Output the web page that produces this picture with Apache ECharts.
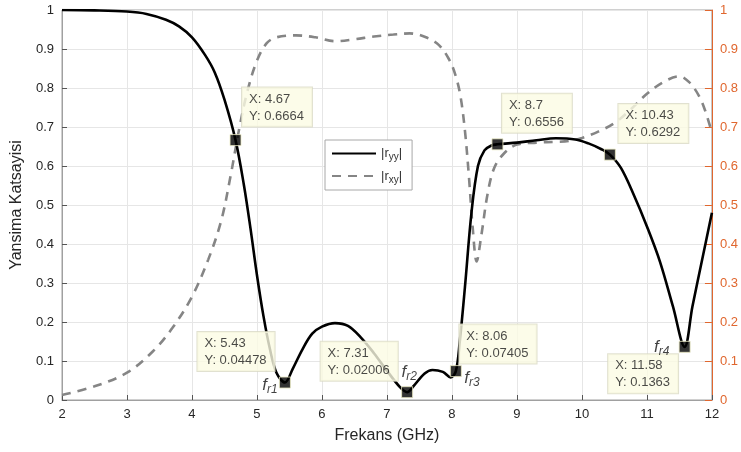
<!DOCTYPE html>
<html>
<head>
<meta charset="utf-8">
<script src="https://cdn.jsdelivr.net/npm/echarts@6/dist/echarts.min.js"></script>
<style>
  html, body { margin: 0; padding: 0; background: #fff; }
  #chart { width: 741px; height: 452px; }
</style>
</head>
<body>
<div id="chart"></div>
<script>
// Frequency axis (GHz)
const freqYY = [2, 2.5, 3, 3.3, 3.6, 3.8, 4.0, 4.2, 4.35, 4.5, 4.67, 4.8, 4.9, 5.0, 5.1, 5.2, 5.3, 5.43,
  5.55, 5.7, 5.85, 6.0, 6.2, 6.4, 6.6, 6.8, 7.0, 7.2, 7.31, 7.4, 7.58, 7.7, 7.86, 7.98, 8.06, 8.12, 8.2,
  8.3, 8.4, 8.5, 8.6, 8.7, 9.0, 9.3, 9.6, 9.9, 10.1, 10.3, 10.43, 10.6, 10.8, 11.0, 11.2, 11.4, 11.58,
  11.7, 11.85, 12];
// |r_yy| co-polar reflection magnitude
const ryy = [1.0, 0.999, 0.996, 0.99, 0.975, 0.958, 0.93, 0.885, 0.84, 0.77, 0.6664, 0.55, 0.44, 0.32,
  0.215, 0.13, 0.07, 0.04478, 0.08, 0.13, 0.17, 0.188, 0.197, 0.19, 0.16, 0.12, 0.075, 0.033, 0.02006,
  0.034, 0.068, 0.077, 0.072, 0.058, 0.07405, 0.15, 0.29, 0.48, 0.6, 0.64, 0.652, 0.6556, 0.66, 0.666,
  0.671, 0.668, 0.658, 0.643, 0.6292, 0.595, 0.525, 0.445, 0.355, 0.24, 0.1363, 0.24, 0.36, 0.48];

const freqXY = [2, 2.5, 3, 3.4, 3.7, 4.0, 4.25, 4.45, 4.6, 4.72, 4.85, 5.0, 5.15, 5.3, 5.6, 5.9, 6.2, 6.5,
  6.8, 7.1, 7.35, 7.6, 7.8, 7.95, 8.05, 8.13, 8.2, 8.26, 8.32, 8.38, 8.45, 8.55, 8.65, 8.8, 9.0, 9.3, 9.6,
  9.8, 10.0, 10.25, 10.5, 10.75, 11.0, 11.25, 11.5, 11.65, 11.8, 11.9, 12];
// |r_xy| cross-polar reflection magnitude
const rxy = [0.013, 0.035, 0.07, 0.125, 0.185, 0.265, 0.36, 0.46, 0.58, 0.69, 0.79, 0.87, 0.915, 0.93,
  0.935, 0.93, 0.92, 0.925, 0.932, 0.937, 0.94, 0.93, 0.91, 0.875, 0.835, 0.78, 0.69, 0.575, 0.44, 0.355,
  0.42, 0.53, 0.595, 0.632, 0.655, 0.66, 0.662, 0.664, 0.672, 0.688, 0.71, 0.745, 0.785, 0.815, 0.83,
  0.815, 0.78, 0.74, 0.685];

// Data tips on the |r_yy| curve
const tipX = [4.67, 5.43, 7.31, 8.06, 8.7, 10.43, 11.58];
const tipY = [0.6664, 0.04478, 0.02006, 0.07405, 0.6556, 0.6292, 0.1363];
// Resonance labels attached to tips
const resIndex = [1, 2, 3, 6];
const resNames = ['r1', 'r2', 'r3', 'r4'];

const xTicks = [2, 3, 4, 5, 6, 7, 8, 9, 10, 11, 12];
const yTicks = [0, 0.1, 0.2, 0.3, 0.4, 0.5, 0.6, 0.7, 0.8, 0.9, 1];

// Top-left corner of each tip box, relative to the marker centre
const tipBox = [[7, -52], [-87, -50], [-86, -50], [4, -46], [5, -50], [9, -50], [-76, 8]];
const resOffset = [[-15, 3], [2, -20], [16, 7], [-23, 0]];

const FONT = '"Liberation Sans", Arial, Helvetica, sans-serif';
const ORANGE = '#e0672f';
const MK = 11;

const pair = (xs, ys) => xs.map((x, i) => [x, ys[i]]);

const tipData = tipX.map((x, i) => ({
  value: [x, tipY[i]],
  label: {
    position: [MK / 2 + tipBox[i][0], MK / 2 + tipBox[i][1]],
    align: 'left',
    verticalAlign: 'top'
  }
}));

const resData = resIndex.map((k, j) => ({
  value: [tipX[k], tipY[k]],
  name: resNames[j],
  label: { offset: resOffset[j] }
}));

const chart = echarts.init(document.getElementById('chart'), null, { renderer: 'canvas' });

const tickFmt = v => {
  const r = Math.round(v * 10) / 10;
  return yTicks.includes(r) ? String(r) : '';
};

chart.setOption({
  animation: false,
  backgroundColor: '#ffffff',
  textStyle: { fontFamily: FONT },
  grid: {
    left: 62, right: 25, top: 10, bottom: 52,
    show: true, borderColor: '#a0a0a0', borderWidth: 1, backgroundColor: '#ffffff'
  },
  legend: {
    left: 325, top: 140,
    orient: 'vertical',
    backgroundColor: '#ffffff',
    borderColor: '#a8a8a8', borderWidth: 1,
    padding: [7, 10, 5, 6],
    itemGap: 7,
    itemWidth: 44, itemHeight: 14,
    itemStyle: { opacity: 0 },
    data: ['ryy', 'rxy'],
    formatter: n => n === 'ryy' ? '|r{s|yy}|' : '|r{s|xy}|',
    textStyle: {
      fontFamily: FONT, fontSize: 13, color: '#333',
      rich: { s: { fontFamily: FONT, fontSize: 10, color: '#333', padding: [8, 0, 0, 0] } }
    }
  },
  xAxis: {
    type: 'value', min: 2, max: 12, interval: 1,
    name: 'Frekans (GHz)', nameLocation: 'middle', nameGap: 28,
    nameTextStyle: { fontFamily: FONT, fontSize: 16, color: '#262626' },
    axisLine: { lineStyle: { color: '#a0a0a0' } },
    axisTick: { inside: true, length: 5, lineStyle: { color: '#555' } },
    axisLabel: { fontFamily: FONT, fontSize: 13, color: '#262626', margin: 8,
      formatter: v => xTicks.includes(v) ? String(v) : '' },
    splitLine: { show: true, lineStyle: { color: '#e6e6e6' } }
  },
  yAxis: [
    {
      type: 'value', min: 0, max: 1, interval: 0.1, position: 'left',
      name: 'Yansima Katsayisi', nameLocation: 'middle', nameGap: 33,
      nameTextStyle: { fontFamily: FONT, fontSize: 16, color: '#262626' },
      axisLine: { show: true, lineStyle: { color: '#a0a0a0' } },
      axisTick: { show: true, inside: true, length: 5, lineStyle: { color: '#555' } },
      axisLabel: { fontFamily: FONT, fontSize: 13, color: '#262626', margin: 8, formatter: tickFmt },
      splitLine: { show: true, lineStyle: { color: '#e6e6e6' } }
    },
    {
      type: 'value', min: 0, max: 1, interval: 0.1, position: 'right',
      axisLine: { show: true, lineStyle: { color: ORANGE } },
      axisTick: { show: true, inside: true, length: 7, lineStyle: { color: ORANGE } },
      axisLabel: { fontFamily: FONT, fontSize: 13, color: ORANGE, margin: 8, formatter: tickFmt },
      splitLine: { show: false }
    }
  ],
  series: [
    {
      name: 'rxy', type: 'line', yAxisIndex: 1,
      data: pair(freqXY, rxy),
      smooth: 0.35, symbol: 'none', z: 2,
      lineStyle: { color: '#858585', width: 2.6, type: [9, 7] },
      itemStyle: { color: '#858585' }
    },
    {
      name: 'ryy', type: 'line', yAxisIndex: 0,
      data: pair(freqYY, ryy),
      smooth: 0.35, symbol: 'none', z: 3,
      lineStyle: { color: '#000000', width: 2.6 },
      itemStyle: { color: '#000000' }
    },
    {
      name: 'tips', type: 'scatter', yAxisIndex: 0, z: 10,
      symbol: 'rect', symbolSize: MK,
      itemStyle: { color: '#000000', borderColor: '#ecebc6', borderWidth: 1 },
      data: tipData,
      label: {
        show: true,
        formatter: p => 'X: ' + p.value[0] + '\nY: ' + p.value[1],
        fontFamily: FONT, fontSize: 13, lineHeight: 17, color: '#1a1a1a',
        backgroundColor: '#fbfbe3', borderColor: '#d9d9c4', borderWidth: 1,
        padding: [3, 8, 2, 7]
      },
      emphasis: { disabled: true }
    },
    {
      name: 'res', type: 'scatter', yAxisIndex: 0, z: 11,
      symbol: 'circle', symbolSize: 1,
      itemStyle: { color: 'rgba(0,0,0,0)' },
      data: resData,
      label: {
        show: true, position: 'inside', align: 'center', verticalAlign: 'middle',
        formatter: p => '{f|f}{s|' + p.name + '}',
        rich: {
          f: { fontFamily: FONT, fontSize: 17, fontStyle: 'italic', color: '#111' },
          s: { fontFamily: FONT, fontSize: 12, fontStyle: 'italic', color: '#111', padding: [9, 0, 0, 0] }
        }
      },
      emphasis: { disabled: true }
    }
  ]
});
</script>
</body>
</html>
